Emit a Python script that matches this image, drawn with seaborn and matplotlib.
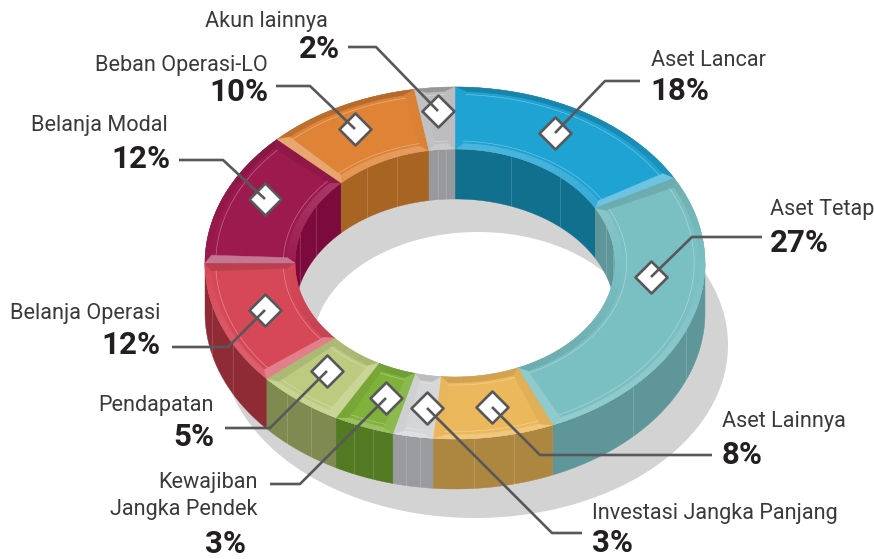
import numpy as np
import pandas as pd
import seaborn as sns
import matplotlib.pyplot as plt
from matplotlib.colors import to_rgb

# slices, clockwise from the top
names = ["Aset Lancar", "Aset Tetap", "Aset Lainnya", "Investasi Jangka Panjang",
         "Kewajiban\nJangka Pendek", "Pendapatan", "Belanja Operasi", "Belanja Modal",
         "Beban Operasi-LO", "Akun lainnya"]
percent = [18, 27, 8, 3, 3, 5, 12, 12, 10, 2]
# width of each slice as drawn in the picture (not quite the printed percent)
drawn = [17.0, 26.6, 7.8, 2.6, 3.9, 5.7, 11.4, 12.4, 10.0, 2.6]
top_colors = ["#1FA3D3", "#7AC0C3", "#ECB85C", "#D5D6D8", "#7FB13B",
              "#BCCB7F", "#D64858", "#9C1A4E", "#DF8437", "#BDBDC0"]
wall_colors = ["#12708F", "#5E969A", "#AD863F", "#9A9B9F", "#527A22",
               "#7E8A50", "#8E2B35", "#7C0A3C", "#A76423", "#98999D"]

# label anchors and leader lines, in pixels of the picture
name_xy = [(651, 60), (770, 210), (722, 422), (592, 514), (258, 496),
           (214, 406), (160, 313), (168, 125), (268, 65), (328, 22)]
pct_xy = [(650, 91), (770, 243), (722, 455), (592, 543), (246, 544),
          (214, 437), (160, 345), (170, 159), (269, 92), (340, 49)]
name_ha = ["left", "left", "left", "left", "right", "right", "right", "right", "right", "right"]
leaders = [[(555, 133), (605, 81), (640, 81)],
           [(651, 277), (692, 237), (762, 237)],
           [(492, 407), (540, 455), (712, 455)],
           [(427, 408), (552, 533), (582, 533)],
           [(386, 398), (300, 484), (270, 484)],
           [(327, 371), (270, 428), (225, 428)],
           [(265, 310), (228, 347), (172, 347)],
           [(265, 199), (223, 160), (179, 160)],
           [(355, 129), (310, 86), (276, 86)],
           [(438, 111), (376, 47), (348, 47)]]

cx, cy = 455, 263
ro = (250, 176)
ri = (160, 114)
depth = 50

sns.set_theme(style="white")
plt.rcParams["font.family"] = ["Roboto", "DejaVu Sans"]
fig = plt.figure(figsize=(8.74, 5.59), dpi=100)
ax = fig.add_axes([0, 0, 1, 1])
ax.set_xlim(0, 874)
ax.set_ylim(559, 0)
ax.axis("off")


def ring_xy(a, f, z=0):
    # a in degrees clockwise from the top, f = 0 inner edge .. 1 outer edge
    a = np.radians(a)
    rx = ri[0] + (ro[0] - ri[0]) * f
    ry = ri[1] + (ro[1] - ri[1]) * f
    return cx + rx * np.sin(a), cy - ry * np.cos(a) + z


def blend(color, s):
    # s > 0 towards white, s < 0 towards black
    c = np.array(to_rgb(color))
    return tuple(c + (1 - c) * s) if s > 0 else tuple(c * (1 + s))


def band(a0, a1, f0, f1, color, z=3):
    aa = np.linspace(a0, a1, max(int(abs(a1 - a0)), 2) + 1)
    x0, y0 = ring_xy(aa, f0)
    x1, y1 = ring_xy(aa[::-1], f1)
    ax.fill(np.r_[x0, x1], np.r_[y0, y1], color=color, lw=0.3, zorder=z)


def wall(a0, a1, f, color, z):
    aa = np.linspace(a0, a1, max(int(abs(a1 - a0)), 2) + 1)
    xt, yt = ring_xy(aa, f)
    xb, yb = ring_xy(aa[::-1], f, depth)
    ax.fill(np.r_[xt, xb], np.r_[yt, yb], color=color, lw=0.3, zorder=z)
    for a in np.linspace(a0, a1, 4)[1:-1]:
        x, y = ring_xy(a, f)
        ax.plot([x, x], [y, y + depth], color="white", lw=0.5, alpha=0.22, zorder=z)


# shadow under the ring
t = np.radians(np.linspace(0, 360, 361))
sx = np.r_[475 + 253 * np.cos(t), 478 + 165 * np.cos(t[::-1])]
sy = np.r_[345 + 173 * np.sin(t), 345 + 113 * np.sin(t[::-1])]
ax.fill(sx, sy, color="#D3D3D3", lw=0, zorder=1)

edges = np.r_[0, np.cumsum(drawn)] * 3.6
edges = edges / edges[-1] * 360

for i in range(len(drawn)):
    a0, a1 = edges[i], edges[i + 1]
    top, side = top_colors[i], wall_colors[i]

    # outer wall shows on the front half, inner wall on the back half
    lo, hi = max(a0, 90), min(a1, 270)
    if lo < hi:
        wall(lo, hi, 1, side, 2)
    if a0 < 90:
        wall(a0, min(a1, 90), 0, side, 2)
    if a1 > 270:
        wall(max(a0, 270), a1, 0, side, 2)

    band(a0, a1, 0, 1, top)

    # rim bevels: faces turned down catch the light, faces turned up go dark
    step = np.arange(a0, a1, 2.0)
    for a in step:
        b = min(a + 2.0, a1)
        light = -np.cos(np.radians((a + b) / 2))
        band(a, b, 0.93, 1, blend(top, 0.22 * light if light > 0 else 0.2 * light), 4)
        band(a, b, 0, 0.09, blend(top, -0.2 * light if light < 0 else -0.12 * light), 4)

    # end bevels
    d = min(2.6, (a1 - a0) * 0.25)
    for a, inner, s in [(a0, a0 + d, -np.sin(np.radians(a0))), (a1, a1 - d, np.sin(np.radians(a1)))]:
        x = [ring_xy(a, 0)[0], ring_xy(a, 1)[0], ring_xy(inner, 0.93)[0], ring_xy(inner, 0.09)[0]]
        y = [ring_xy(a, 0)[1], ring_xy(a, 1)[1], ring_xy(inner, 0.93)[1], ring_xy(inner, 0.09)[1]]
        ax.fill(x, y, color=blend(top, 0.4 * s if s > 0 else 0.12 * s), lw=0.3, zorder=5)

    # thin pale inset lines along the rims of the top face
    aa = np.linspace(a0 + d, a1 - d, 40)
    for f in (0.88, 0.13):
        ax.plot(*ring_xy(aa, f), color="white", lw=0.5, alpha=0.35, zorder=6)

# diamonds on each slice
marks = pd.DataFrame({"x": [p[0][0] for p in leaders], "y": [p[0][1] for p in leaders]})
sns.scatterplot(data=marks, x="x", y="y", marker="D", s=265, color="white",
                edgecolor="#58585A", linewidth=1.9, ax=ax, zorder=7, legend=False)
ax.set_xlim(0, 874)
ax.set_ylim(559, 0)
ax.axis("off")

for path in leaders:
    ax.plot(*zip(*path), color="#58585A", lw=1.9, solid_capstyle="butt", zorder=8)

for i, name in enumerate(names):
    ax.text(*name_xy[i], name, ha=name_ha[i], va="center", fontsize=15.6, color="#3A3A3A",
            linespacing=1.38, fontweight="normal", zorder=9)
    ax.text(*pct_xy[i], f"{percent[i]}%", ha=name_ha[i], va="center", fontsize=22.5,
            color="#231F20", fontweight="bold", zorder=9)

fig.savefig("out.png", dpi=100)
